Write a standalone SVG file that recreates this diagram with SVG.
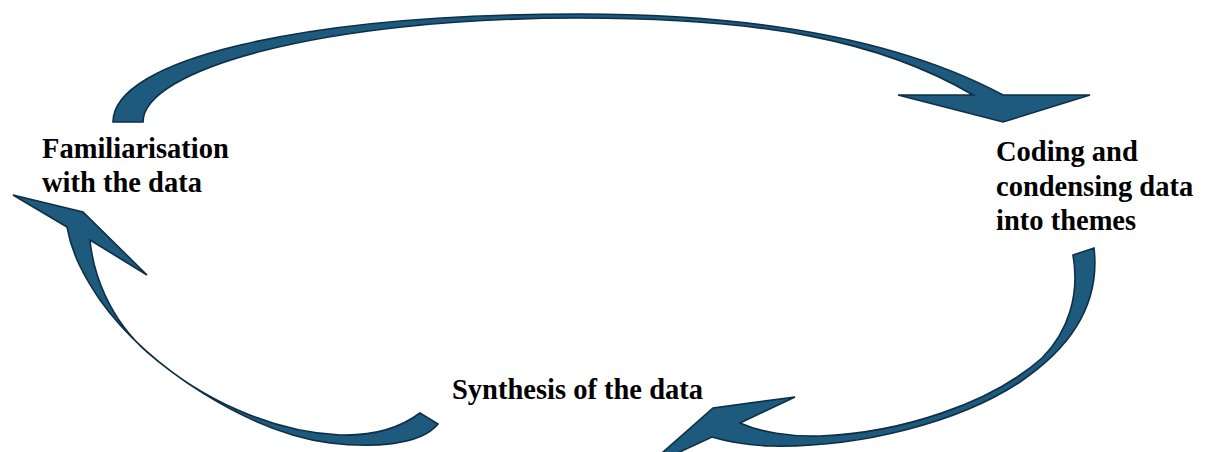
<svg xmlns="http://www.w3.org/2000/svg" width="1205" height="452" viewBox="0 0 1205 452">
  <style>
    .arrow { fill: #1d5a7d; stroke: #0e2f45; stroke-width: 1.6; stroke-linejoin: miter; }
    .label { font-family: "Liberation Serif", "Times New Roman", serif; font-weight: bold; font-size: 28.5px; fill: #000; }
  </style>
  <rect width="1205" height="452" fill="#ffffff"/>

  <g id="connectors">
    <!-- Familiarisation -> Coding: arc over the top -->
    <path id="arc-top" class="arrow" d="M113,122 C113,60 300,14 580,14 C760,14 900,40 1003,95 L1090,95 L1003,122 L898,95 L973,95 C880,40 760,18 580,18 C320,18 143,70 143,122 Z"/>
    <!-- Coding -> Synthesis: arc down the right side -->
    <path id="arc-right" class="arrow" d="M1094,248 C1100,300 1075,345 1020,382 C960,422 860,448 770,446 C745,445 725,441 712,437 L645,468 L713,408 L795,397 L740,423 C760,432 790,437 820,436 C900,433 990,404 1042,358 C1068,332 1080,295 1073,255 Z"/>
    <!-- Synthesis -> Familiarisation: arc up the left side -->
    <path id="arc-left" class="arrow" d="M438,424 C420,446 370,448 330,443 C250,432 150,370 100,300 C85,278 72,255 67,227 L13,195 L83,212 L147,275 L90,240 C93,272 108,318 148,353 C200,398 270,432 340,435 C375,436 400,428 420,413 Z"/>
  </g>

  <g id="node-familiarisation">
    <text class="label" x="42" y="158">Familiarisation</text>
    <text class="label" x="42" y="192">with the data</text>
  </g>

  <g id="node-coding">
    <text class="label" x="996" y="161">Coding and</text>
    <text class="label" x="996" y="196">condensing data</text>
    <text class="label" x="996" y="230">into themes</text>
  </g>

  <g id="node-synthesis">
    <text class="label" x="452" y="399">Synthesis of the data</text>
  </g>
</svg>
